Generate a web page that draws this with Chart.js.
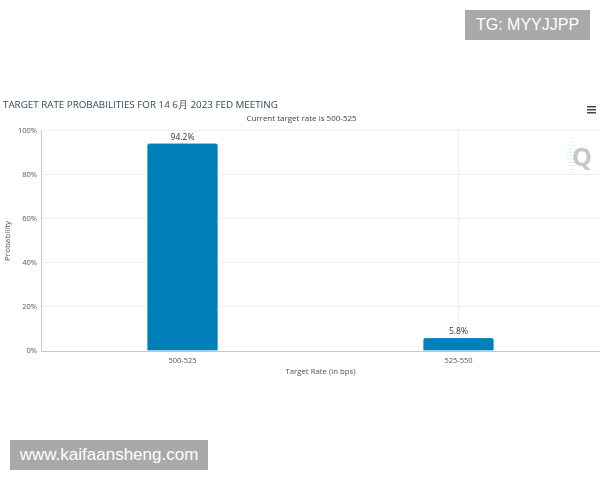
<!DOCTYPE html>
<html>
<head>
<meta charset="utf-8">
<style>
  html, body { margin: 0; padding: 0; background: #fff; }
  #wrap { position: relative; width: 600px; height: 480px; overflow: hidden; }
  .mark { position: absolute; background: #a9a9a9; color: #fff; font-family: "Liberation Sans", sans-serif; text-align: center; }
  #tg { left: 465px; top: 10px; width: 125px; height: 30px; line-height: 30px; font-size: 16px; }
  #site { left: 10px; top: 440px; width: 198px; height: 30px; line-height: 30px; font-size: 17px; }
</style>
<script src="https://cdn.jsdelivr.net/npm/chart.js@4"></script>
</head>
<body>
<div id="wrap">
  <canvas id="myChart" width="600" height="480"></canvas>
  <div id="tg" class="mark">TG: MYYJJPP</div>
  <div id="site" class="mark">www.kaifaansheng.com</div>
</div>
<script>
// Données du graphique
const categories = ["500-525", "525-550"];
const probabilities = [94.2, 5.8];
const yTicks = [0, 20, 40, 60, 80, 100];

const fontName = '"Open Sans", sans-serif';

// Libellés au-dessus des barres, logo Q et menu
const extras = {
  id: "extras",
  afterDatasetsDraw(chart) {
    const ctx = chart.ctx;
    ctx.save();
    ctx.textAlign = "center";
    ctx.textBaseline = "alphabetic";
    ctx.fillStyle = "#333";
    ctx.font = "8.5px " + fontName;
    chart.getDatasetMeta(0).data.forEach((bar, i) => {
      ctx.fillText(probabilities[i].toFixed(1) + "%", bar.x, bar.y - 4);
    });
    // hachures du logo
    ctx.fillStyle = "#dff0ea";
    for (let row = 0; row < 11; row++) {
      const half = 9 - Math.abs(row - 5) * 1.5;
      ctx.fillRect(573 - half, 138 + row * 3.4, half * 1.6, 1);
    }
    ctx.fillStyle = "#c8c8c8";
    ctx.font = "bold 25px " + fontName;
    ctx.fillText("Q", 582, 166);
    ctx.fillStyle = "#444";
    ctx.fillRect(587, 106, 9, 1.5);
    ctx.fillRect(587, 109, 9, 1.5);
    ctx.fillRect(587, 112, 9, 1.5);
    ctx.restore();
  },
};

const myChart = new Chart(document.getElementById("myChart"), {
  type: "bar",
  data: {
    datasets: [
      {
        data: probabilities.map((p, i) => ({ x: i, y: p })),
        backgroundColor: "#0080b8",
        borderColor: "#2a9fcf",
        borderWidth: 0.6,
        borderRadius: 2,
        borderSkipped: "bottom",
        barThickness: 70,
      },
    ],
  },
  options: {
    responsive: false,
    animation: false,
    layout: { padding: { left: 3, right: 0, top: 99, bottom: 104 } },
    plugins: {
      legend: { display: false },
      tooltip: { enabled: false },
      title: {
        display: true,
        text: "TARGET RATE PROBABILITIES FOR 14 6月 2023 FED MEETING",
        align: "start",
        color: "#34495e",
        font: { family: fontName, size: 9.8, weight: "normal" },
        padding: { top: 0, bottom: 3 },
      },
      subtitle: {
        display: true,
        text: "Current target rate is 500-525",
        color: "#444",
        font: { family: fontName, size: 8 },
        padding: { top: 0, bottom: 7.5 },
      },
    },
    scales: {
      x: {
        type: "linear",
        offset: false,
        min: -0.5127,
        max: 1.5127,
        afterBuildTicks(axis) {
          axis.ticks = categories.map((c, i) => ({ value: i }));
        },
        afterFit(axis) {
          axis.height = 25;
        },
        ticks: {
          callback: (v) => categories[v],
          color: "#555",
          font: { family: fontName, size: 7.5 },
          maxRotation: 0,
          padding: 5,
        },
        grid: { color: "#f0f0f0", drawTicks: false, offset: false },
        border: { color: "#c8c8c8", width: 1 },
        title: {
          display: true,
          text: "Target Rate (in bps)",
          color: "#555",
          font: { family: fontName, size: 7.8 },
          padding: { top: 4, bottom: 0 },
        },
      },
      y: {
        min: 0,
        max: 100,
        afterBuildTicks(axis) {
          axis.ticks = yTicks.map((v) => ({ value: v }));
        },
        afterFit(axis) {
          axis.width = 38;
        },
        ticks: {
          callback: (v) => v + "%",
          color: "#555",
          font: { family: fontName, size: 7.5 },
          padding: 4,
        },
        grid: { color: "#ededed", drawTicks: false },
        border: { color: "#c8c8c8", width: 1 },
        title: {
          display: true,
          text: "Probability",
          color: "#555",
          font: { family: fontName, size: 8 },
          padding: 0,
        },
      },
    },
  },
  plugins: [extras],
});
</script>
</body>
</html>
